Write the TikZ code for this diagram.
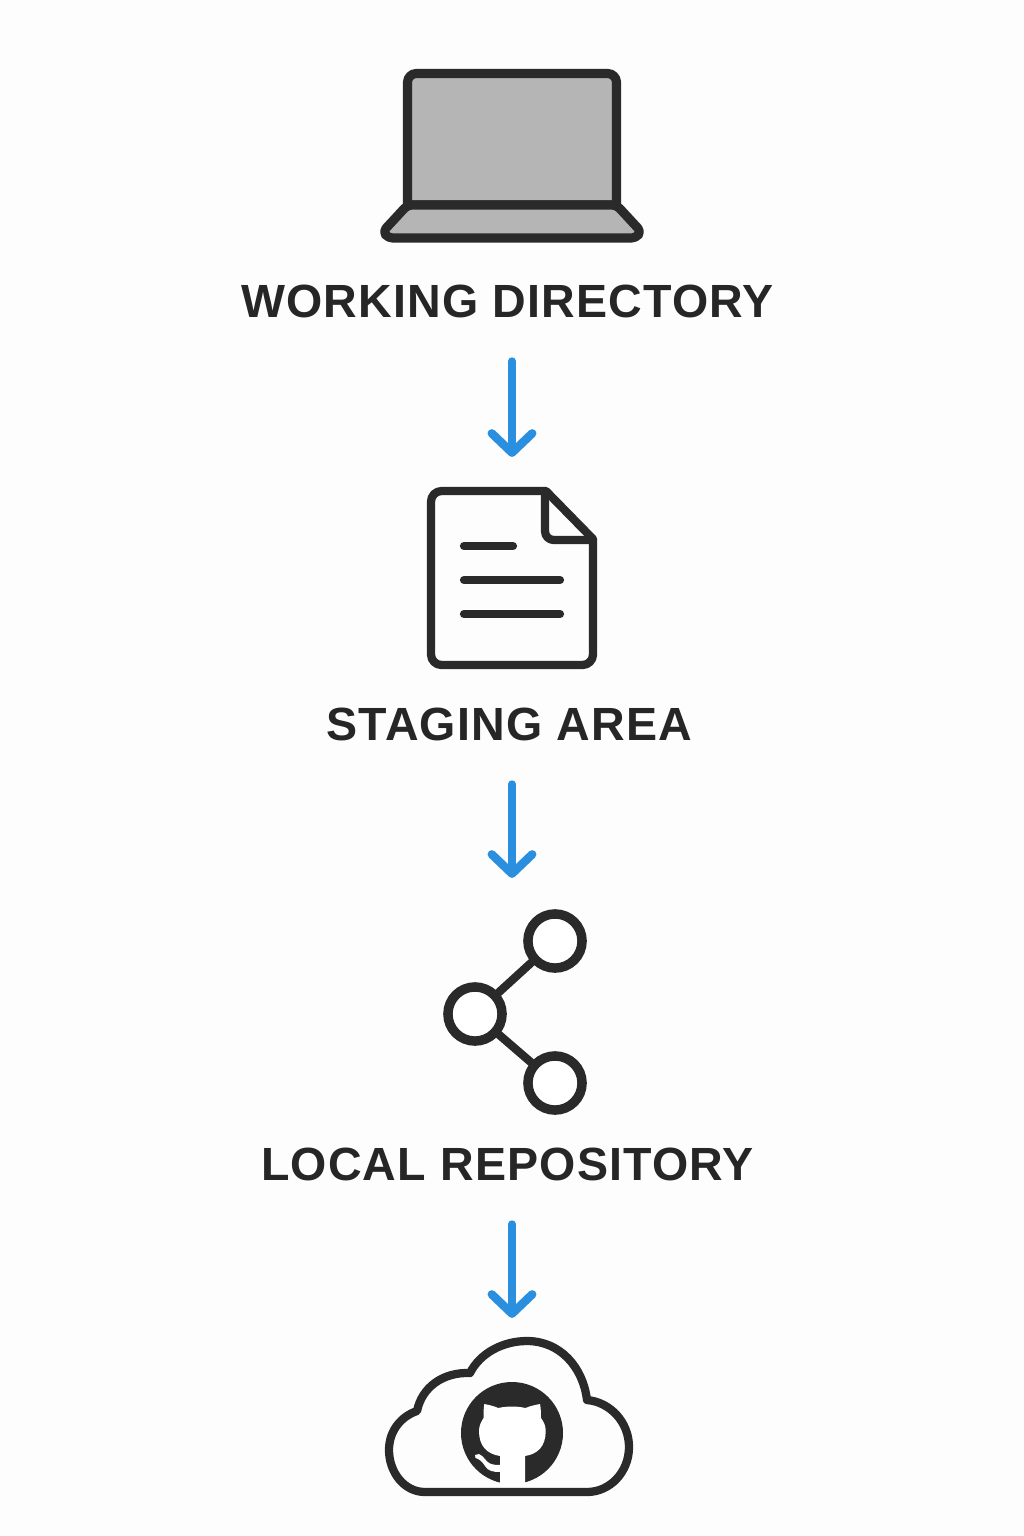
\documentclass[tikz,border=0pt]{standalone}
\usepackage{fontspec}
\setmainfont{Liberation Sans}
\newfontfamily\labelfont[LetterSpace=2.6]{Liberation Sans}
\usetikzlibrary{arrows.meta}
\definecolor{IconDark}{HTML}{2A2A2A}
\definecolor{TextDark}{HTML}{262626}
\definecolor{FlowBlue}{HTML}{2B8FE0}
\definecolor{ScreenGray}{HTML}{B5B5B5}
\definecolor{PageWhite}{HTML}{FDFDFD}
\tikzset{
    iconline/.style={
        draw=IconDark, line width=4.7pt, line join=round, line cap=round
    },
    iconbox/.style={
        inner sep=0pt, minimum width=2cm
    },
    steplabel/.style={
        font=\labelfont\fontsize{26.5}{30}\selectfont\bfseries, color=TextDark,
        inner sep=0pt, text height=19pt, text depth=0pt
    },
    flowarrow/.style={
        -{Straight Barb[round, length=11pt, width=23pt, line width=4.8pt]}, line width=4.3pt, line cap=round, FlowBlue,
        shorten <=24.5pt, shorten >=17.5pt
    },
    graphdot/.style={
        circle, draw=IconDark, line width=5.4pt, fill=white, minimum size=30.8pt, inner sep=0pt
    }
}
\begin{document}
\begin{tikzpicture}[x=0.02cm, y=-0.02cm]
    \useasboundingbox (0,0) rectangle (1024,1536);
    \fill[PageWhite] (0,0) rectangle (1024,1536);

    % laptop
    \draw[iconline, line width=5.2pt, fill=ScreenGray] (407.5,205) [rounded corners=5pt] -- (407.5,73.5) -- (616.5,73.5) -- (616.5,120) [sharp corners] -- (616.5,205) -- cycle;
    \draw[iconline, line width=5.2pt, fill=ScreenGray, rounded corners=2.5pt] (407.5,205) -- (616.5,205) -- (641,231.5) -- (636,238) -- (388,238) -- (383,231.5) -- cycle;
    \node[steplabel] (workdir) at (507.5,301) {WORKING DIRECTORY};

    % staged file
    \node[iconbox] (stagefile) at (512,578) [minimum height=180*0.02cm] {};
    \draw[iconline, rounded corners=6pt] (431,665) -- (431,491) -- (480,491) [sharp corners] -- (546,491) -- (593,539) -- (593,600) [rounded corners=6pt] -- (593,665) -- cycle;
    \draw[iconline, rounded corners=5pt] (545,495) -- (545,540) -- (593,540);
    \draw[iconline] (464,546) -- (513,546);
    \draw[iconline] (464,580) -- (560,580);
    \draw[iconline] (464,614) -- (560,614);
    \node[steplabel] (stagearea) at (509.5,724) {STAGING AREA};

    % repository graph
    \node[iconbox] (repoicon) at (512,1011) [minimum height=204*0.02cm] {};
    \node[graphdot] (hubdot) at (475,1014) {};
    \node[graphdot] (topdot) at (555,941) {};
    \node[graphdot] (lowdot) at (555,1083) {};
    \draw[iconline] (hubdot) -- (topdot);
    \draw[iconline] (hubdot) -- (lowdot);
    \node[steplabel] (localrepo) at (507.5,1164) {LOCAL REPOSITORY};

    % cloud with logo
    \node[iconbox] (cloudicon) at (512,1420) [minimum height=142*0.02cm] {};
    \draw[iconline] (425,1492) .. controls (404,1492) and (389,1472) .. (389,1450)
        .. controls (389,1430) and (402,1416) .. (417,1411)
        .. controls (422,1387) and (443,1372) .. (470,1373)
        .. controls (480,1353) and (503,1341) .. (527,1341)
        .. controls (560,1341) and (583,1367) .. (587,1400)
        .. controls (610,1402) and (629,1422) .. (629,1447)
        .. controls (629,1472) and (610,1492) .. (587,1492) -- cycle;
    \fill[IconDark] (512,1433) circle [radius=51];
    \fill[white] (484.3,1404) .. controls (489,1405) and (494,1406) .. (498.3,1408)
        .. controls (507,1406) and (517,1406) .. (525.5,1408)
        .. controls (530,1406) and (535,1405) .. (540,1404)
        .. controls (541,1409) and (541,1414) .. (541,1418)
        .. controls (544,1422) and (545.7,1426) .. (545.7,1431)
        .. controls (545.7,1446) and (538,1454) .. (525,1456)
        -- (525,1486) -- (500,1486) -- (500,1472)
        .. controls (493,1472) and (488,1471) .. (485,1466)
        .. controls (482,1461) and (479,1459) .. (475.5,1458)
        -- (475,1455) -- (479,1454)
        .. controls (484,1456) and (486,1462) .. (490,1463.5)
        .. controls (494,1465) and (497,1465) .. (500,1465)
        -- (500,1456)
        .. controls (487,1454) and (479,1446) .. (479,1431)
        .. controls (479,1426) and (481,1422) .. (483.5,1418)
        .. controls (483.5,1414) and (483.5,1409) .. (484.3,1404) -- cycle;

    \draw[flowarrow] (workdir.south -| stagefile.north) -- (stagefile.north);
    \draw[flowarrow] (stagearea.south -| repoicon.north) -- (repoicon.north);
    \draw[flowarrow] (localrepo.south -| cloudicon.north) -- (cloudicon.north);
\end{tikzpicture}
\end{document}
